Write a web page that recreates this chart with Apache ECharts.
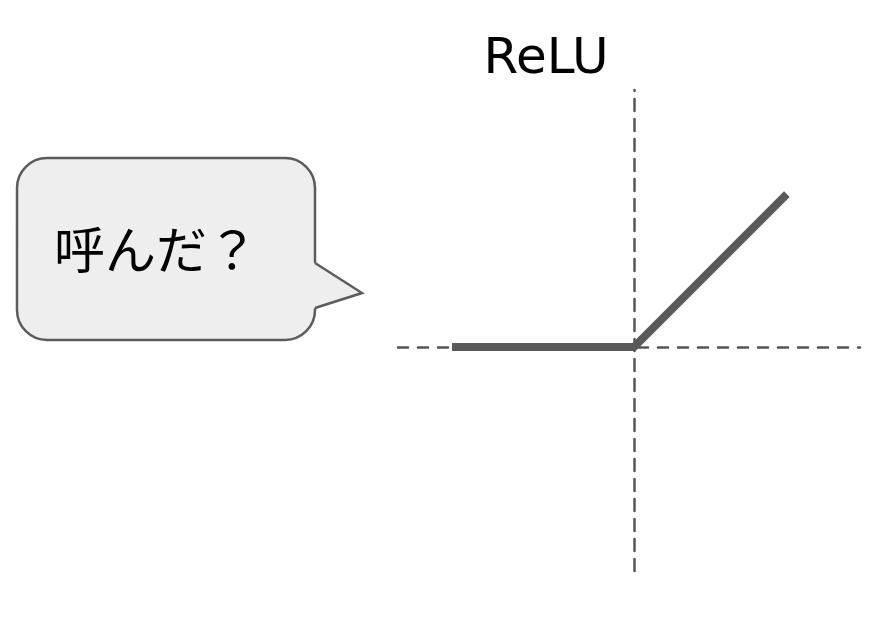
<!DOCTYPE html>
<html>
<head>
<meta charset="utf-8">
<script src="https://cdn.jsdelivr.net/npm/echarts@6/dist/echarts.min.js"></script>
<style>html,body{margin:0;padding:0;background:#fff;}#c{width:873px;height:619px;}</style>
</head>
<body>
<div id="c"></div>
<script>
// Data
var reluX = [-1, 0, 0.84];
var reluY = [0, 0, 0.84];
var xRange = [-1.297, 1.242];
var yRange = [-1.231, 1.412];
var titleText = 'ReLU';
var bubbleText = '呼んだ？';

var chart = echarts.init(document.getElementById('c'), null, {renderer: 'canvas'});
var lineData = reluX.map(function (x, i) { return [x, reluY[i]]; });
var axisColor = '#555555';

var option = {
  animation: false,
  backgroundColor: '#ffffff',
  title: {
    text: titleText,
    left: 541,
    top: 30,
    textAlign: 'center',
    textStyle: {fontSize: 50, fontWeight: 'normal', fontFamily: 'DejaVu Sans', color: '#000'}
  },
  grid: {left: 398, right: 13, top: 90, bottom: 48, containLabel: false},
  xAxis: {
    type: 'value', min: xRange[0], max: xRange[1],
    axisLine: {show: true, onZero: true, lineStyle: {color: axisColor, width: 2.5, type: [10, 10]}},
    axisTick: {show: false}, axisLabel: {show: false}, splitLine: {show: false}
  },
  yAxis: {
    type: 'value', min: yRange[0], max: yRange[1],
    axisLine: {show: true, onZero: true, lineStyle: {color: axisColor, width: 2.5, type: [12, 8]}},
    axisTick: {show: false}, axisLabel: {show: false}, splitLine: {show: false}
  },
  series: [{
    type: 'line',
    data: lineData,
    showSymbol: false,
    symbol: 'none',
    lineStyle: {color: '#595959', width: 8, join: 'miter', cap: 'butt'},
    z: 5
  }],
  graphic: [
    {
      type: 'rect',
      shape: {x: 17, y: 158, width: 298, height: 182, r: 30},
      style: {fill: '#eeeeee', stroke: '#5c5c5c', lineWidth: 2.5},
      z: 10
    },
    {
      type: 'polygon',
      shape: {points: [[312, 262], [315, 263], [362, 293], [315, 308], [312, 309]]},
      style: {fill: '#eeeeee'},
      z: 11
    },
    {
      type: 'polyline',
      shape: {points: [[315, 263], [362, 293], [315, 308]]},
      style: {stroke: '#5c5c5c', lineWidth: 2.5, fill: null},
      z: 12
    },
    {
      type: 'text',
      x: 54, y: 250,
      style: {text: bubbleText, fill: '#000', fontSize: 51, fontFamily: 'Noto Sans CJK JP', verticalAlign: 'middle', align: 'left'},
      z: 13
    }
  ]
};
chart.setOption(option);
</script>
</body>
</html>
